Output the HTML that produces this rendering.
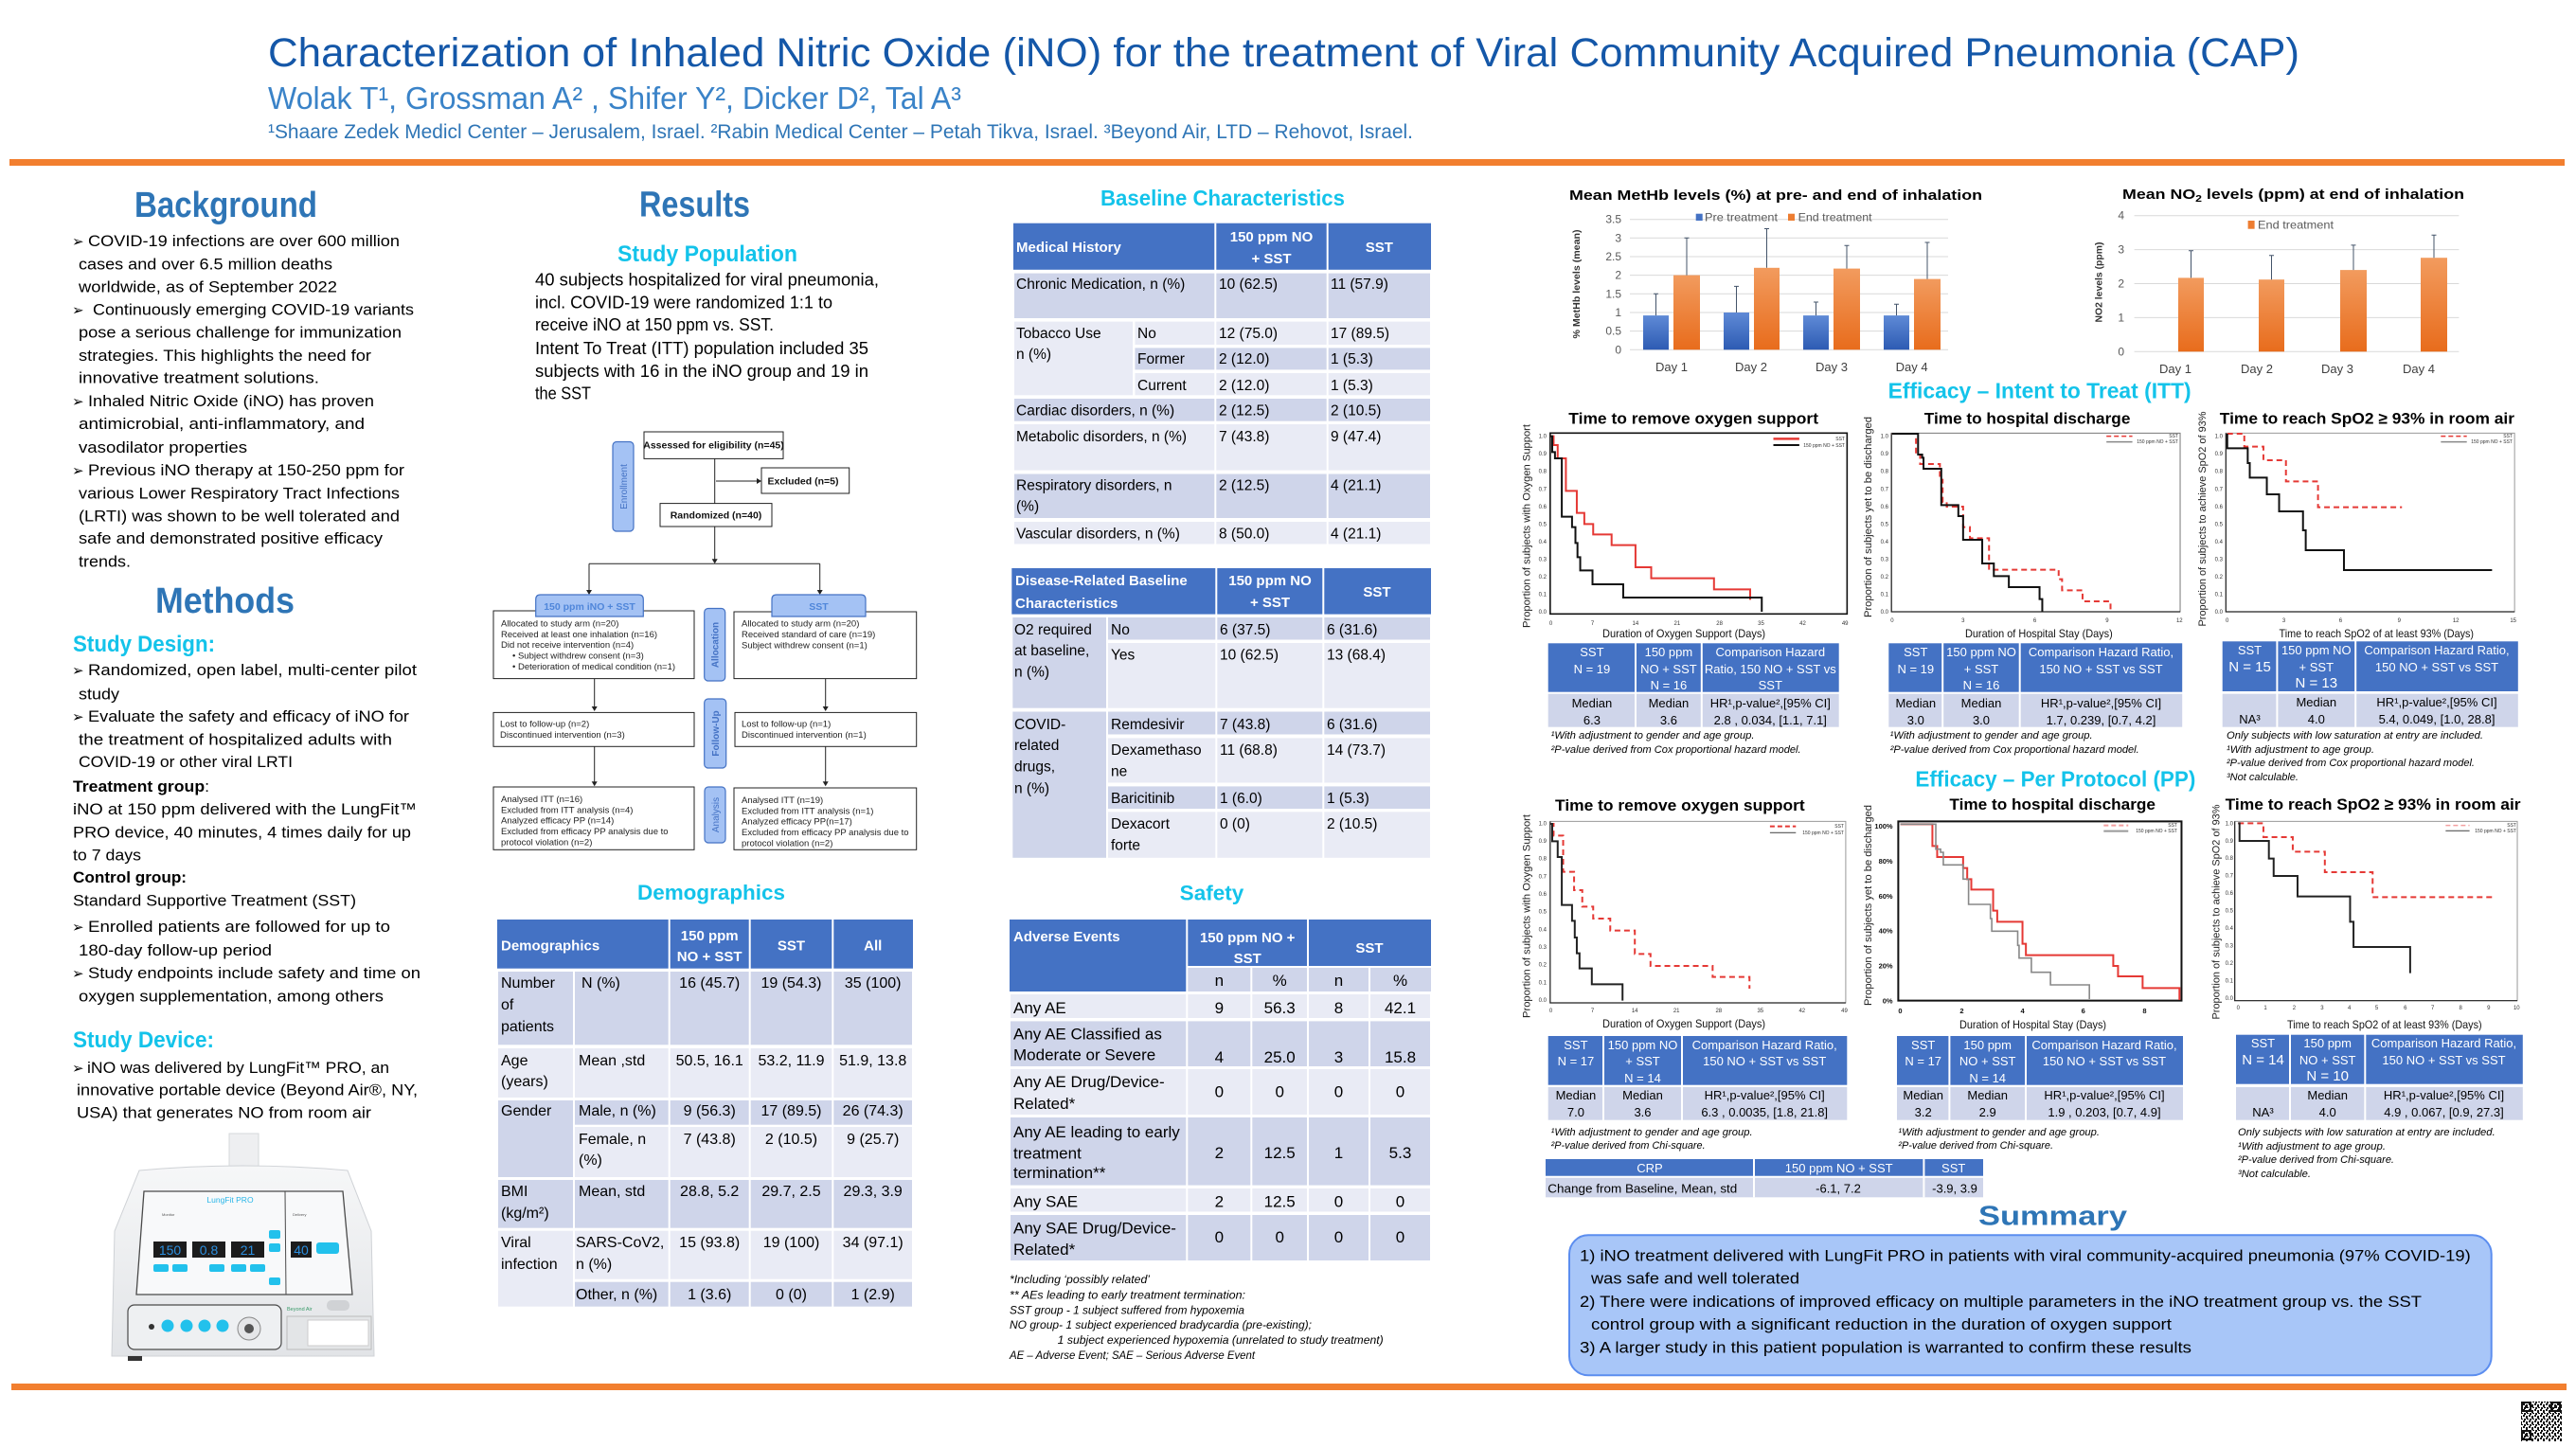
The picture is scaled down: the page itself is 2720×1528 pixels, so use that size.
<!DOCTYPE html>
<html><head><meta charset="utf-8">
<style>
html,body{margin:0;padding:0;background:#fff;width:2720px;height:1528px;overflow:hidden}
svg{display:block}
text{font-family:"Liberation Sans",sans-serif}
.bul{font-family:"DejaVu Sans",sans-serif;font-size:15px}
.b{font-size:17px}
.r{font-size:18.5px}
.h1{font-size:38px;font-weight:bold;fill:#2E75B6}
.cy{font-weight:bold;fill:#13C3EA}
.fc{font-size:9.5px;fill:#222}
.fcb{font-size:10.5px;font-weight:bold;fill:#111}
.side{font-size:10px;fill:#4472C4}
.th{fill:#fff;font-weight:bold;font-size:15px}
.tb{font-size:16px}
.ts{font-size:17px}
.tbs{font-size:15.5px}
.kw{font-size:13px;fill:#fff}
.kb{font-size:13px}
.fn{font-size:11px;font-style:italic}
.sf{font-size:12px;font-style:italic}
.tk{font-size:6px;fill:#333}
.tkb{font-size:7.5px;fill:#111;font-weight:bold}
.ax{font-size:12px;fill:#595959}
.kt{font-size:17px;font-weight:bold}
.yt{font-size:11px;fill:#222}
.xt{font-size:12px;fill:#111}
.lg{font-size:5px;fill:#333}
.sm{font-size:17px}
</style></head><body>
<svg width="2720" height="1528" viewBox="0 0 2720 1528" xmlns="http://www.w3.org/2000/svg">
<defs>
<linearGradient id="gb" x1="0" y1="0" x2="0" y2="1"><stop offset="0" stop-color="#5F8AD6"/><stop offset="1" stop-color="#2D5BB3"/></linearGradient>
<linearGradient id="go" x1="0" y1="0" x2="0" y2="1"><stop offset="0" stop-color="#F29B5E"/><stop offset="1" stop-color="#E86C1C"/></linearGradient>
<linearGradient id="gd" x1="0" y1="0" x2="0" y2="1"><stop offset="0" stop-color="#f6f7f8"/><stop offset="1" stop-color="#e2e4e7"/></linearGradient>
<pattern id="qr" width="6" height="6" patternUnits="userSpaceOnUse"><rect width="6" height="6" fill="#fff"/><rect x="0" y="0" width="2" height="2" fill="#111"/><rect x="3" y="1" width="2" height="3" fill="#111"/><rect x="1" y="4" width="2" height="2" fill="#111"/><rect x="4" y="4" width="2" height="1" fill="#111"/></pattern>
</defs>
<rect width="2720" height="1528" fill="#fff"/>

<!-- HEADER -->
<text x="283" y="70" font-size="43" fill="#1457A8" textLength="2145" lengthAdjust="spacingAndGlyphs">Characterization of Inhaled Nitric Oxide (iNO) for the treatment of Viral Community Acquired Pneumonia (CAP)</text>
<text x="283" y="115" font-size="33" fill="#3A83C8" textLength="732" lengthAdjust="spacingAndGlyphs">Wolak T¹, Grossman A² , Shifer Y², Dicker D², Tal A³</text>
<text x="283" y="146" font-size="21" fill="#2E75B6" textLength="1209" lengthAdjust="spacingAndGlyphs">¹Shaare Zedek Medicl Center – Jerusalem, Israel. ²Rabin Medical Center – Petah Tikva, Israel. ³Beyond Air, LTD – Rehovot, Israel.</text>
<rect x="10" y="168" width="2698" height="7" fill="#F27F2F"/>
<rect x="12" y="1461" width="2698" height="7" fill="#F27F2F"/>

<!-- LEFT COLUMN -->
<text x="142" y="229" class="h1" textLength="193" lengthAdjust="spacingAndGlyphs">Background</text>
<text x="76" y="260" class="bul">➢</text><text x="93" y="260" class="b" textLength="329" lengthAdjust="spacingAndGlyphs">COVID-19 infections are over 600 million</text>
<text x="83" y="284.5" class="b" textLength="268" lengthAdjust="spacingAndGlyphs">cases and over 6.5 million deaths</text>
<text x="83" y="308.5" class="b" textLength="273" lengthAdjust="spacingAndGlyphs">worldwide, as of September 2022</text>
<text x="76" y="332.5" class="bul">➢</text><text x="98" y="332.5" class="b" textLength="339" lengthAdjust="spacingAndGlyphs">Continuously emerging COVID-19 variants</text>
<text x="83" y="356.6" class="b" textLength="341" lengthAdjust="spacingAndGlyphs">pose a serious challenge for immunization</text>
<text x="83" y="380.8" class="b" textLength="309" lengthAdjust="spacingAndGlyphs">strategies. This highlights the need for</text>
<text x="83" y="404.6" class="b" textLength="254" lengthAdjust="spacingAndGlyphs">innovative treatment solutions.</text>
<text x="76" y="428.8" class="bul">➢</text><text x="93" y="428.8" class="b" textLength="302" lengthAdjust="spacingAndGlyphs">Inhaled Nitric Oxide (iNO) has proven</text>
<text x="83" y="453" class="b" textLength="302" lengthAdjust="spacingAndGlyphs">antimicrobial, anti-inflammatory, and</text>
<text x="83" y="478" class="b" textLength="178" lengthAdjust="spacingAndGlyphs">vasodilator properties</text>
<text x="76" y="502" class="bul">➢</text><text x="93" y="502" class="b" textLength="334" lengthAdjust="spacingAndGlyphs">Previous iNO therapy at 150-250 ppm for</text>
<text x="83" y="526.3" class="b" textLength="339" lengthAdjust="spacingAndGlyphs">various Lower Respiratory Tract Infections</text>
<text x="83" y="550.5" class="b" textLength="339" lengthAdjust="spacingAndGlyphs">(LRTI) was shown to be well tolerated and</text>
<text x="83" y="574" class="b" textLength="321" lengthAdjust="spacingAndGlyphs">safe and demonstrated positive efficacy</text>
<text x="83" y="598.5" class="b" textLength="55" lengthAdjust="spacingAndGlyphs">trends.</text>

<text x="164" y="647" class="h1" textLength="147" lengthAdjust="spacingAndGlyphs">Methods</text>
<text x="77" y="688" class="cy" font-size="24" textLength="150" lengthAdjust="spacingAndGlyphs">Study Design:</text>
<text x="76" y="713" class="bul">➢</text><text x="93" y="713" class="b" textLength="347" lengthAdjust="spacingAndGlyphs">Randomized, open label, multi-center pilot</text>
<text x="83" y="738.5" class="b" textLength="43" lengthAdjust="spacingAndGlyphs">study</text>
<text x="76" y="762" class="bul">➢</text><text x="93" y="762" class="b" textLength="339" lengthAdjust="spacingAndGlyphs">Evaluate the safety and efficacy of iNO for</text>
<text x="83" y="786.5" class="b" textLength="331" lengthAdjust="spacingAndGlyphs">the treatment of hospitalized adults with</text>
<text x="83" y="810" class="b" textLength="226" lengthAdjust="spacingAndGlyphs">COVID-19 or other viral LRTI</text>
<text x="77" y="836" class="b" textLength="144" lengthAdjust="spacingAndGlyphs"><tspan font-weight="bold">Treatment group</tspan>:</text>
<text x="77" y="860" class="b" textLength="363" lengthAdjust="spacingAndGlyphs">iNO at 150 ppm delivered with the LungFit™</text>
<text x="77" y="884.5" class="b" textLength="357" lengthAdjust="spacingAndGlyphs">PRO device, 40 minutes, 4 times daily for up</text>
<text x="77" y="908.6" class="b" textLength="72" lengthAdjust="spacingAndGlyphs">to 7 days</text>
<text x="77" y="932" class="b" font-weight="bold" textLength="120" lengthAdjust="spacingAndGlyphs">Control group:</text>
<text x="77" y="956.5" class="b" textLength="299" lengthAdjust="spacingAndGlyphs">Standard Supportive Treatment (SST)</text>
<text x="76" y="984" class="bul">➢</text><text x="93" y="984" class="b" textLength="319" lengthAdjust="spacingAndGlyphs">Enrolled patients are followed for up to</text>
<text x="83" y="1009" class="b" textLength="204" lengthAdjust="spacingAndGlyphs">180-day follow-up period</text>
<text x="76" y="1033" class="bul">➢</text><text x="93" y="1033" class="b" textLength="351" lengthAdjust="spacingAndGlyphs">Study endpoints include safety and time on</text>
<text x="83" y="1057.7" class="b" textLength="322" lengthAdjust="spacingAndGlyphs">oxygen supplementation, among others</text>
<text x="77" y="1106" class="cy" font-size="24" textLength="149" lengthAdjust="spacingAndGlyphs">Study Device:</text>
<text x="76" y="1133" class="bul">➢</text><text x="92" y="1133" class="b" textLength="319" lengthAdjust="spacingAndGlyphs">iNO was delivered by LungFit™ PRO, an</text>
<text x="81" y="1156.5" class="b" textLength="360" lengthAdjust="spacingAndGlyphs">innovative portable device (Beyond Air®, NY,</text>
<text x="81" y="1180.7" class="b" textLength="311" lengthAdjust="spacingAndGlyphs">USA) that generates NO from room air</text>

<!-- DEVICE -->
<g>
<rect x="242" y="1197" width="31" height="40" fill="#eeeff1" stroke="#d6d8db"/>
<path d="M147,1236 Q257,1226 367,1236 L392,1300 L395,1432 L118,1432 L121,1300 Z" fill="url(#gd)" stroke="#cfd2d6"/>
<path d="M152,1258 L362,1258 L372,1367 L144,1367 Z" fill="#f8f9fa" stroke="#4a4a4a" stroke-width="1.3"/>
<line x1="301" y1="1258" x2="302" y2="1367" stroke="#4a4a4a" stroke-width="1"/>
<text x="243" y="1270" font-size="8.5" fill="#29B6E8" text-anchor="middle">LungFit PRO</text>
<text x="171" y="1284" font-size="4" fill="#555">Monitor</text>
<text x="309" y="1284" font-size="4" fill="#555">Delivery</text>
<rect x="162" y="1311" width="35" height="17" fill="#1c1c1c"/>
<rect x="203" y="1311" width="35" height="17" fill="#1c1c1c"/>
<rect x="244" y="1311" width="35" height="17" fill="#1c1c1c"/>
<rect x="307" y="1311" width="22" height="17" fill="#1c1c1c"/>
<text x="179.5" y="1325" font-size="14" fill="#2B8FE0" text-anchor="middle" font-family="Liberation Mono">150</text>
<text x="220.5" y="1325" font-size="14" fill="#2B8FE0" text-anchor="middle" font-family="Liberation Mono">0.8</text>
<text x="261.5" y="1325" font-size="14" fill="#2B8FE0" text-anchor="middle" font-family="Liberation Mono">21</text>
<text x="318" y="1325" font-size="14" fill="#2B8FE0" text-anchor="middle" font-family="Liberation Mono">40</text>
<rect x="334" y="1312" width="24" height="12" rx="3" fill="#22C1EC"/>
<rect x="284" y="1299" width="12" height="9" rx="2" fill="#22C1EC"/>
<rect x="284" y="1313" width="12" height="9" rx="2" fill="#22C1EC"/>
<rect x="284" y="1349" width="12" height="8" rx="2" fill="#22C1EC"/>
<rect x="162" y="1335" width="16" height="8" rx="2" fill="#22C1EC"/><rect x="182" y="1335" width="16" height="8" rx="2" fill="#22C1EC"/>
<rect x="221" y="1335" width="16" height="8" rx="2" fill="#22C1EC"/><rect x="244" y="1335" width="16" height="8" rx="2" fill="#22C1EC"/><rect x="264" y="1335" width="16" height="8" rx="2" fill="#22C1EC"/>
<rect x="135" y="1378" width="162" height="47" rx="7" fill="#eef0f2" stroke="#4a4a4a" stroke-width="1.2"/>
<circle cx="177" cy="1400" r="6.5" fill="#22C1EC"/><circle cx="197" cy="1400" r="6.5" fill="#22C1EC"/><circle cx="216" cy="1400" r="6.5" fill="#22C1EC"/><circle cx="235" cy="1400" r="6.5" fill="#22C1EC"/>
<circle cx="160" cy="1401" r="3" fill="#333"/>
<circle cx="263" cy="1403" r="12" fill="#e5e6e8" stroke="#888"/><circle cx="263" cy="1403" r="5" fill="#555"/>
<rect x="303" y="1390" width="89" height="35" fill="#e3e5e7" stroke="#bbb"/>
<rect x="325" y="1394" width="64" height="27" fill="#fff" stroke="#ccc"/>
<text x="303" y="1384" font-size="5.5" fill="#3a9a6a">Beyond Air</text>
<rect x="345" y="1373" width="24" height="11" rx="5" fill="#d0d2d5"/>
<rect x="135" y="1432" width="15" height="5" fill="#333"/>
</g>

<!-- RESULTS COLUMN -->
<text x="675" y="228.6" class="h1" textLength="117" lengthAdjust="spacingAndGlyphs">Results</text>
<text x="652" y="276" class="cy" font-size="24" textLength="190" lengthAdjust="spacingAndGlyphs">Study Population</text>
<text x="565" y="301.3" class="r" textLength="363" lengthAdjust="spacingAndGlyphs">40 subjects hospitalized for viral pneumonia,</text>
<text x="565" y="325.4" class="r" textLength="314" lengthAdjust="spacingAndGlyphs">incl. COVID-19 were randomized 1:1 to</text>
<text x="565" y="349" class="r" textLength="252" lengthAdjust="spacingAndGlyphs">receive iNO at 150 ppm vs. SST.</text>
<text x="565" y="374" class="r" textLength="352" lengthAdjust="spacingAndGlyphs">Intent To Treat (ITT) population included 35</text>
<text x="565" y="398" class="r" textLength="352" lengthAdjust="spacingAndGlyphs">subjects with 16 in the iNO group and 19 in</text>
<text x="565" y="421.6" class="r" textLength="59" lengthAdjust="spacingAndGlyphs">the SST</text>

<!-- FLOWCHART -->
<g fill="none" stroke="#222" stroke-width="1">
<rect x="680" y="456" width="147" height="28.4"/>
<rect x="804" y="494" width="92.7" height="27"/>
<rect x="697" y="531.6" width="118" height="24.4"/>
<line x1="754.7" y1="484.4" x2="754.7" y2="531.6"/>
<line x1="756" y1="508" x2="800" y2="508"/>
<line x1="754.7" y1="556" x2="754.7" y2="592"/>
<line x1="622" y1="595.3" x2="865.7" y2="595.3"/>
<line x1="622" y1="595.3" x2="622" y2="624"/>
<line x1="865.7" y1="595.3" x2="865.7" y2="624"/>
<rect x="521" y="645" width="212" height="71.6"/>
<rect x="775" y="646" width="192.7" height="70.6"/>
<line x1="627.7" y1="716.6" x2="627.7" y2="747"/>
<line x1="871.7" y1="716.6" x2="871.7" y2="747"/>
<rect x="521" y="752.4" width="212" height="35.9"/>
<rect x="776" y="752.4" width="191.7" height="35.9"/>
<line x1="627.7" y1="788.3" x2="627.7" y2="826"/>
<line x1="871.7" y1="788.3" x2="871.7" y2="826"/>
<rect x="521" y="831" width="212" height="66.3"/>
<rect x="775" y="832" width="192.7" height="65.3"/>
</g>
<g fill="#222">
<path d="M804,508 l-5,-3 v6 z"/>
<path d="M754.7,595.3 l-3,-5 h6 z"/>
<path d="M622,628 l-3,-5 h6 z"/><path d="M865.7,628 l-3,-5 h6 z"/>
<path d="M627.7,751 l-3,-5 h6 z"/><path d="M871.7,751 l-3,-5 h6 z"/>
<path d="M627.7,830.3 l-3,-5 h6 z"/><path d="M871.7,830.3 l-3,-5 h6 z"/>
</g>
<g fill="#A4C2F4" stroke="#4472C4" stroke-width="1.2">
<rect x="647" y="466.5" width="22" height="94.5" rx="4"/>
<rect x="743.7" y="642.5" width="22" height="76.5" rx="4"/>
<rect x="743.7" y="738" width="23" height="73" rx="4"/>
<rect x="744" y="831" width="22" height="59" rx="4"/>
<path d="M565.7,651 V633 Q565.7,628 570.7,628 H674.3 Q679.3,628 679.3,633 V651 Z"/>
<path d="M815,651 V633 Q815,628 820,628 H909 Q914,628 914,633 V651 Z"/>
</g>
<text class="side" transform="translate(662,514) rotate(-90)" text-anchor="middle">Enrollment</text>
<text class="side" transform="translate(758.5,681) rotate(-90)" text-anchor="middle" font-weight="bold">Allocation</text>
<text class="side" transform="translate(759,774.5) rotate(-90)" text-anchor="middle" font-weight="bold">Follow-Up</text>
<text class="side" transform="translate(759,860.5) rotate(-90)" text-anchor="middle">Analysis</text>
<text x="622.5" y="644" font-size="10.5" fill="#4F86DA" font-weight="bold" text-anchor="middle">150 ppm iNO + SST</text>
<text x="864.5" y="644" font-size="10.5" fill="#4F86DA" font-weight="bold" text-anchor="middle">SST</text>
<text x="753.5" y="473.5" class="fcb" text-anchor="middle">Assessed  for eligibility (n=45)</text>
<text x="810.5" y="511.5" class="fcb">Excluded (n=5)</text>
<text x="756" y="547.5" class="fcb" text-anchor="middle">Randomized (n=40)</text>
<text x="529" y="661.5" class="fc">Allocated to study arm (n=20)</text>
<text x="529" y="673" class="fc">Received  at least one inhalation (n=16)</text>
<text x="529" y="684" class="fc">Did not receive intervention  (n=4)</text>
<text x="541" y="695.5" class="fc">• Subject withdrew  consent (n=3)</text>
<text x="541" y="707" class="fc">• Deterioration  of medical condition (n=1)</text>
<text x="783" y="661.5" class="fc">Allocated to study arm (n=20)</text>
<text x="783" y="673" class="fc">Received  standard of care (n=19)</text>
<text x="783" y="684.5" class="fc">Subject withdrew  consent (n=1)</text>
<text x="528" y="767.5" class="fc">Lost to follow-up  (n=2)</text>
<text x="528" y="779" class="fc">Discontinued intervention  (n=3)</text>
<text x="783" y="767.5" class="fc">Lost to follow-up  (n=1)</text>
<text x="783" y="779" class="fc">Discontinued intervention  (n=1)</text>
<text x="529" y="847" class="fc">Analysed ITT  (n=16)</text>
<text x="529" y="858.5" class="fc">Excluded from ITT  analysis (n=4)</text>
<text x="529" y="869.5" class="fc">Analyzed efficacy  PP (n=14)</text>
<text x="529" y="881" class="fc">Excluded from efficacy  PP analysis due to</text>
<text x="529" y="892.5" class="fc">protocol violation  (n=2)</text>
<text x="783" y="848" class="fc">Analysed ITT  (n=19)</text>
<text x="783" y="859.5" class="fc">Excluded from ITT  analysis (n=1)</text>
<text x="783" y="870.5" class="fc">Analyzed efficacy  PP(n=17)</text>
<text x="783" y="882" class="fc">Excluded from efficacy  PP analysis due to</text>
<text x="783" y="893.5" class="fc">protocol violation  (n=2)</text>

<!-- DEMOGRAPHICS -->
<text x="673" y="950" class="cy" font-size="22" textLength="156" lengthAdjust="spacingAndGlyphs">Demographics</text>
<rect x="525" y="971" width="439" height="51.7" fill="#4472C4"/>
<g stroke="#fff" stroke-width="2">
<rect x="525" y="1025" width="439" height="79.3" fill="#CFD5EA"/>
<rect x="525" y="1106" width="439" height="54" fill="#E9EBF5"/>
<rect x="525" y="1161" width="81" height="83" fill="#CFD5EA"/>
<rect x="606" y="1161" width="358" height="27.7" fill="#CFD5EA"/>
<rect x="606" y="1189" width="358" height="55" fill="#E9EBF5"/>
<rect x="525" y="1245" width="439" height="52.7" fill="#CFD5EA"/>
<rect x="525" y="1298.7" width="81" height="82" fill="#E9EBF5"/>
<rect x="606" y="1298.7" width="358" height="53" fill="#E9EBF5"/>
<rect x="606" y="1352.7" width="358" height="28" fill="#CFD5EA"/>
<line x1="606" y1="1025" x2="606" y2="1381"/>
<line x1="706.7" y1="971" x2="706.7" y2="1381"/>
<line x1="791.7" y1="971" x2="791.7" y2="1381"/>
<line x1="879.3" y1="971" x2="879.3" y2="1381"/>
</g>
<text x="529" y="1003.5" class="th" font-size="16">Demographics</text>
<text x="749.2" y="993" class="th" font-size="16" text-anchor="middle">150 ppm</text>
<text x="749.2" y="1015" class="th" font-size="16" text-anchor="middle">NO + SST</text>
<text x="835.5" y="1003.5" class="th" font-size="16" text-anchor="middle">SST</text>
<text x="921.7" y="1003.5" class="th" font-size="16" text-anchor="middle">All</text>
<g class="tb">
<text x="529" y="1043">Number</text><text x="529" y="1066">of</text><text x="529" y="1089">patients</text>
<text x="614" y="1043">N (%)</text>
<text x="749.2" y="1043" text-anchor="middle">16 (45.7)</text><text x="835.5" y="1043" text-anchor="middle">19 (54.3)</text><text x="921.7" y="1043" text-anchor="middle">35 (100)</text>
<text x="529" y="1125">Age</text><text x="529" y="1147">(years)</text>
<text x="611" y="1125">Mean ,std</text>
<text x="749.2" y="1125" text-anchor="middle">50.5, 16.1</text><text x="835.5" y="1125" text-anchor="middle">53.2, 11.9</text><text x="921.7" y="1125" text-anchor="middle">51.9, 13.8</text>
<text x="529" y="1178">Gender</text>
<text x="611" y="1178">Male, n (%)</text>
<text x="749.2" y="1178" text-anchor="middle">9 (56.3)</text><text x="835.5" y="1178" text-anchor="middle">17 (89.5)</text><text x="921.7" y="1178" text-anchor="middle">26 (74.3)</text>
<text x="611" y="1208">Female, n</text><text x="611" y="1230">(%)</text>
<text x="749.2" y="1208" text-anchor="middle">7 (43.8)</text><text x="835.5" y="1208" text-anchor="middle">2 (10.5)</text><text x="921.7" y="1208" text-anchor="middle">9 (25.7)</text>
<text x="529" y="1263">BMI</text><text x="529" y="1286">(kg/m²)</text>
<text x="611" y="1263">Mean, std</text>
<text x="749.2" y="1263" text-anchor="middle">28.8, 5.2</text><text x="835.5" y="1263" text-anchor="middle">29.7, 2.5</text><text x="921.7" y="1263" text-anchor="middle">29.3, 3.9</text>
<text x="529" y="1317">Viral</text><text x="529" y="1340">infection</text>
<text x="608" y="1317">SARS-CoV2,</text><text x="608" y="1340">n (%)</text>
<text x="749.2" y="1317" text-anchor="middle">15 (93.8)</text><text x="835.5" y="1317" text-anchor="middle">19 (100)</text><text x="921.7" y="1317" text-anchor="middle">34 (97.1)</text>
<text x="608" y="1372">Other, n (%)</text>
<text x="749.2" y="1372" text-anchor="middle">1 (3.6)</text><text x="835.5" y="1372" text-anchor="middle">0 (0)</text><text x="921.7" y="1372" text-anchor="middle">1 (2.9)</text>
</g>

<!-- BASELINE CHARACTERISTICS -->
<text x="1162" y="216.8" class="cy" font-size="23" textLength="258" lengthAdjust="spacingAndGlyphs">Baseline Characteristics</text>
<rect x="1070" y="235.7" width="441" height="49.1" fill="#4472C4"/>
<g stroke="#fff" stroke-width="2">
<rect x="1070" y="287.6" width="441" height="49.4" fill="#CFD5EA"/>
<rect x="1070" y="338.6" width="127.3" height="79.7" fill="#E9EBF5"/>
<rect x="1197.3" y="338.6" width="313.7" height="26.4" fill="#E9EBF5"/>
<rect x="1197.3" y="366.4" width="313.7" height="25" fill="#CFD5EA"/>
<rect x="1197.3" y="393" width="313.7" height="25.3" fill="#E9EBF5"/>
<rect x="1070" y="420" width="441" height="25.7" fill="#CFD5EA"/>
<rect x="1070" y="447" width="441" height="50.6" fill="#E9EBF5"/>
<rect x="1070" y="499.5" width="441" height="48.5" fill="#CFD5EA"/>
<rect x="1070" y="550" width="441" height="25.5" fill="#E9EBF5"/>
<line x1="1283.3" y1="235.7" x2="1283.3" y2="575.5"/>
<line x1="1401.7" y1="235.7" x2="1401.7" y2="575.5"/>
<line x1="1197.3" y1="338.6" x2="1197.3" y2="418.3"/>
</g>
<text x="1073" y="266" class="th">Medical History</text>
<text x="1342.5" y="255" class="th" text-anchor="middle">150 ppm NO</text>
<text x="1342.5" y="278" class="th" text-anchor="middle">+ SST</text>
<text x="1456.4" y="266" class="th" text-anchor="middle">SST</text>
<g class="tbs">
<text x="1073" y="305">Chronic Medication, n (%)</text><text x="1287" y="305">10 (62.5)</text><text x="1405" y="305">11 (57.9)</text>
<text x="1073" y="357">Tobacco Use</text><text x="1073" y="379">n (%)</text>
<text x="1201" y="357">No</text><text x="1287" y="357">12 (75.0)</text><text x="1405" y="357">17 (89.5)</text>
<text x="1201" y="384">Former</text><text x="1287" y="384">2 (12.0)</text><text x="1405" y="384">1 (5.3)</text>
<text x="1201" y="412">Current</text><text x="1287" y="412">2 (12.0)</text><text x="1405" y="412">1 (5.3)</text>
<text x="1073" y="438.6">Cardiac disorders, n (%)</text><text x="1287" y="438.6">2 (12.5)</text><text x="1405" y="438.6">2 (10.5)</text>
<text x="1073" y="466">Metabolic disorders, n (%)</text><text x="1287" y="466">7 (43.8)</text><text x="1405" y="466">9 (47.4)</text>
<text x="1073" y="517.4">Respiratory disorders, n</text><text x="1073" y="539.6">(%)</text><text x="1287" y="517.4">2 (12.5)</text><text x="1405" y="517.4">4 (21.1)</text>
<text x="1073" y="568.4">Vascular disorders, n (%)</text><text x="1287" y="568.4">8 (50.0)</text><text x="1405" y="568.4">4 (21.1)</text>
</g>

<rect x="1068.3" y="600" width="442.7" height="48.6" fill="#4472C4"/>
<g stroke="#fff" stroke-width="2">
<rect x="1068.3" y="651" width="100.7" height="97.7" fill="#CFD5EA"/>
<rect x="1169" y="651" width="342" height="25.5" fill="#CFD5EA"/>
<rect x="1169" y="678" width="342" height="70.7" fill="#E9EBF5"/>
<rect x="1068.3" y="750.5" width="100.7" height="156.3" fill="#CFD5EA"/>
<rect x="1169" y="750.5" width="342" height="26" fill="#CFD5EA"/>
<rect x="1169" y="778.4" width="342" height="49.1" fill="#E9EBF5"/>
<rect x="1169" y="829.4" width="342" height="25.6" fill="#CFD5EA"/>
<rect x="1169" y="856.3" width="342" height="50.5" fill="#E9EBF5"/>
<line x1="1284.3" y1="600" x2="1284.3" y2="906.8"/>
<line x1="1397.3" y1="600" x2="1397.3" y2="906.8"/>
<line x1="1169" y1="651" x2="1169" y2="906.8"/>
</g>
<text x="1072" y="618" class="th">Disease-Related Baseline</text>
<text x="1072" y="642" class="th">Characteristics</text>
<text x="1341" y="618" class="th" text-anchor="middle">150 ppm NO</text>
<text x="1341" y="641" class="th" text-anchor="middle">+ SST</text>
<text x="1454" y="630" class="th" text-anchor="middle">SST</text>
<g class="tbs">
<text x="1071" y="670">O2 required</text><text x="1071" y="692">at baseline,</text><text x="1071" y="714.7">n (%)</text>
<text x="1173" y="670">No</text><text x="1288" y="670">6 (37.5)</text><text x="1401" y="670">6 (31.6)</text>
<text x="1173" y="696.7">Yes</text><text x="1288" y="696.7">10 (62.5)</text><text x="1401" y="696.7">13 (68.4)</text>
<text x="1071" y="770">COVID-</text><text x="1071" y="792">related</text><text x="1071" y="814.7">drugs,</text><text x="1071" y="837.4">n (%)</text>
<text x="1173" y="770">Remdesivir</text><text x="1288" y="770">7 (43.8)</text><text x="1401" y="770">6 (31.6)</text>
<text x="1173" y="796.8">Dexamethaso</text><text x="1173" y="819.5">ne</text><text x="1288" y="796.8">11 (68.8)</text><text x="1401" y="796.8">14 (73.7)</text>
<text x="1173" y="847.8">Baricitinib</text><text x="1288" y="847.8">1 (6.0)</text><text x="1401" y="847.8">1 (5.3)</text>
<text x="1173" y="875">Dexacort</text><text x="1173" y="897.3">forte</text><text x="1288" y="875">0 (0)</text><text x="1401" y="875">2 (10.5)</text>
</g>

<!-- SAFETY -->
<text x="1245.7" y="950.6" class="cy" font-size="22" textLength="67.6" lengthAdjust="spacingAndGlyphs">Safety</text>
<rect x="1066" y="971" width="445" height="49" fill="#4472C4"/>
<rect x="1066" y="971" width="187.3" height="76" fill="#4472C4"/>
<rect x="1253.3" y="1022" width="257.7" height="25" fill="#CFD5EA"/>
<g stroke="#fff" stroke-width="2">
<rect x="1066" y="1049" width="445" height="27" fill="#E9EBF5"/>
<rect x="1066" y="1077.4" width="445" height="49.6" fill="#CFD5EA"/>
<rect x="1066" y="1128" width="445" height="50" fill="#E9EBF5"/>
<rect x="1066" y="1179" width="445" height="73.6" fill="#CFD5EA"/>
<rect x="1066" y="1254" width="445" height="26.5" fill="#E9EBF5"/>
<rect x="1066" y="1282" width="445" height="50" fill="#CFD5EA"/>
<line x1="1253.3" y1="971" x2="1253.3" y2="1332"/>
<line x1="1381" y1="971" x2="1381" y2="1332"/>
<line x1="1321.3" y1="1021" x2="1321.3" y2="1332"/>
<line x1="1446" y1="1021" x2="1446" y2="1332"/>
<line x1="1253.3" y1="1021" x2="1511" y2="1021"/>
</g>
<text x="1070" y="994" class="th" font-size="16.5">Adverse Events</text>
<text x="1317.2" y="995" class="th" font-size="16.5" text-anchor="middle">150 ppm NO +</text>
<text x="1317.2" y="1017" class="th" font-size="16.5" text-anchor="middle">SST</text>
<text x="1446" y="1006" class="th" font-size="16.5" text-anchor="middle">SST</text>
<g class="ts">
<text x="1287.3" y="1041" text-anchor="middle">n</text><text x="1351.2" y="1041" text-anchor="middle">%</text><text x="1413.5" y="1041" text-anchor="middle">n</text><text x="1478.5" y="1041" text-anchor="middle">%</text>
<text x="1070" y="1070">Any AE</text>
<text x="1287.3" y="1070" text-anchor="middle">9</text><text x="1351.2" y="1070" text-anchor="middle">56.3</text><text x="1413.5" y="1070" text-anchor="middle">8</text><text x="1478.5" y="1070" text-anchor="middle">42.1</text>
<text x="1070" y="1097.7">Any AE Classified as</text><text x="1070" y="1119.4">Moderate or Severe</text>
<text x="1287.3" y="1121.8" text-anchor="middle">4</text><text x="1351.2" y="1121.8" text-anchor="middle">25.0</text><text x="1413.5" y="1121.8" text-anchor="middle">3</text><text x="1478.5" y="1121.8" text-anchor="middle">15.8</text>
<text x="1070" y="1148">Any AE Drug/Device-</text><text x="1070" y="1171">Related*</text>
<text x="1287.3" y="1158.6" text-anchor="middle">0</text><text x="1351.2" y="1158.6" text-anchor="middle">0</text><text x="1413.5" y="1158.6" text-anchor="middle">0</text><text x="1478.5" y="1158.6" text-anchor="middle">0</text>
<text x="1070" y="1201">Any AE leading to early</text><text x="1070" y="1223.4">treatment</text><text x="1070" y="1244">termination**</text>
<text x="1287.3" y="1223" text-anchor="middle">2</text><text x="1351.2" y="1223" text-anchor="middle">12.5</text><text x="1413.5" y="1223" text-anchor="middle">1</text><text x="1478.5" y="1223" text-anchor="middle">5.3</text>
<text x="1070" y="1274.3">Any SAE</text>
<text x="1287.3" y="1274.3" text-anchor="middle">2</text><text x="1351.2" y="1274.3" text-anchor="middle">12.5</text><text x="1413.5" y="1274.3" text-anchor="middle">0</text><text x="1478.5" y="1274.3" text-anchor="middle">0</text>
<text x="1070" y="1302.6">Any SAE Drug/Device-</text><text x="1070" y="1325">Related*</text>
<text x="1287.3" y="1312" text-anchor="middle">0</text><text x="1351.2" y="1312" text-anchor="middle">0</text><text x="1413.5" y="1312" text-anchor="middle">0</text><text x="1478.5" y="1312" text-anchor="middle">0</text>
</g>
<text x="1066" y="1355" class="sf" textLength="148" lengthAdjust="spacingAndGlyphs">*Including ‘possibly related’</text>
<text x="1066" y="1371.4" class="sf" textLength="249" lengthAdjust="spacingAndGlyphs">** AEs leading to early treatment termination:</text>
<text x="1066" y="1387.6" class="sf" textLength="248" lengthAdjust="spacingAndGlyphs">SST group - 1 subject suffered from hypoxemia</text>
<text x="1066" y="1403" class="sf" textLength="319" lengthAdjust="spacingAndGlyphs">NO group- 1 subject experienced bradycardia (pre-existing);</text>
<text x="1116.7" y="1419" class="sf" textLength="344" lengthAdjust="spacingAndGlyphs">1 subject experienced hypoxemia (unrelated to study treatment)</text>
<text x="1066" y="1435" class="sf" textLength="259" lengthAdjust="spacingAndGlyphs">AE – Adverse Event; SAE – Serious Adverse Event</text>

<!-- BAR CHART 1 -->
<text x="1657" y="211" font-size="14.5" font-weight="bold" textLength="436" lengthAdjust="spacingAndGlyphs">Mean MetHb levels (%) at pre- and end of inhalation</text>
<g stroke="#D9D9D9" stroke-width="1">
<line x1="1721" y1="369.3" x2="2057" y2="369.3"/><line x1="1721" y1="349.6" x2="2057" y2="349.6"/>
<line x1="1721" y1="330" x2="2057" y2="330"/><line x1="1721" y1="310.3" x2="2057" y2="310.3"/>
<line x1="1721" y1="290.6" x2="2057" y2="290.6"/><line x1="1721" y1="271" x2="2057" y2="271"/>
<line x1="1721" y1="251.3" x2="2057" y2="251.3"/><line x1="1721" y1="231.7" x2="2057" y2="231.7"/>
</g>
<g class="ax" text-anchor="end">
<text x="1712" y="373.3">0</text><text x="1712" y="353.6">0.5</text><text x="1712" y="334">1</text><text x="1712" y="314.3">1.5</text>
<text x="1712" y="294.6">2</text><text x="1712" y="275">2.5</text><text x="1712" y="255.3">3</text><text x="1712" y="235.7">3.5</text>
</g>
<text transform="translate(1668,300) rotate(-90)" font-size="10" font-weight="bold" fill="#333" text-anchor="middle" textLength="115" lengthAdjust="spacingAndGlyphs">% MetHb levels (mean)</text>
<rect x="1790.7" y="225.7" width="7" height="7.3" fill="#4472C4"/><text x="1800" y="233.5" class="ax" textLength="77" lengthAdjust="spacingAndGlyphs">Pre treatment</text>
<rect x="1888" y="225.7" width="7" height="7.3" fill="#ED7D31"/><text x="1898.6" y="233.5" class="ax" textLength="78" lengthAdjust="spacingAndGlyphs">End treatment</text>
<rect x="1735" y="333.1" width="27" height="36.2" fill="url(#gb)"/>
<rect x="1767" y="290.6" width="28" height="78.7" fill="url(#go)"/>
<rect x="1820" y="330" width="27" height="39.3" fill="url(#gb)"/>
<rect x="1852" y="282.8" width="27" height="86.5" fill="url(#go)"/>
<rect x="1904" y="333.1" width="27" height="36.2" fill="url(#gb)"/>
<rect x="1936" y="283.6" width="28" height="85.7" fill="url(#go)"/>
<rect x="1989" y="333.1" width="27" height="36.2" fill="url(#gb)"/>
<rect x="2021" y="294.6" width="28" height="74.7" fill="url(#go)"/>
<g stroke="#44546A" stroke-width="1">
<path d="M1748.5,333.1V310.3M1746,310.3h5"/><path d="M1781,290.6V251.3M1778.5,251.3h5"/>
<path d="M1833.5,330V302.4M1831,302.4h5"/><path d="M1865.5,282.8V241.5M1863,241.5h5"/>
<path d="M1917.5,333.1V319M1915,319h5"/><path d="M1950,283.6V259.2M1947.5,259.2h5"/>
<path d="M2002.5,333.1V321.3M2000,321.3h5"/><path d="M2035,294.6V256M2032.5,256h5"/>
</g>
<g font-size="13" fill="#404040" text-anchor="middle">
<text x="1765" y="392">Day 1</text><text x="1849" y="392">Day 2</text><text x="1934" y="392">Day 3</text><text x="2018.6" y="392">Day 4</text>
</g>

<!-- BAR CHART 2 -->
<text x="2241" y="210" font-size="14.5" font-weight="bold" textLength="361" lengthAdjust="spacingAndGlyphs">Mean NO<tspan font-size="10" dy="3">2</tspan><tspan dy="-3"> levels (ppm) at end of inhalation</tspan></text>
<g stroke="#D9D9D9" stroke-width="1">
<line x1="2253.6" y1="371.3" x2="2596.4" y2="371.3"/><line x1="2253.6" y1="335.4" x2="2596.4" y2="335.4"/>
<line x1="2253.6" y1="299.5" x2="2596.4" y2="299.5"/><line x1="2253.6" y1="263.6" x2="2596.4" y2="263.6"/>
<line x1="2253.6" y1="227.7" x2="2596.4" y2="227.7"/>
</g>
<g class="ax" text-anchor="end">
<text x="2243" y="375.3">0</text><text x="2243" y="339.4">1</text><text x="2243" y="303.5">2</text><text x="2243" y="267.6">3</text><text x="2243" y="231.7">4</text>
</g>
<text transform="translate(2219.5,298) rotate(-90)" font-size="10" font-weight="bold" fill="#333" text-anchor="middle" textLength="85" lengthAdjust="spacingAndGlyphs">NO2 levels (ppm)</text>
<rect x="2373.6" y="233" width="7" height="8.7" fill="#ED7D31"/><text x="2384" y="241.5" class="ax" textLength="80" lengthAdjust="spacingAndGlyphs">End treatment</text>
<rect x="2300" y="293.4" width="27" height="77.9" fill="url(#go)"/>
<rect x="2385" y="295.2" width="27" height="76.1" fill="url(#go)"/>
<rect x="2471" y="285.1" width="28" height="86.2" fill="url(#go)"/>
<rect x="2556" y="272.2" width="28" height="99.1" fill="url(#go)"/>
<g stroke="#44546A" stroke-width="1">
<path d="M2313.5,293.4V264.7M2311,264.7h5"/><path d="M2398.5,295.2V269.7M2396,269.7h5"/>
<path d="M2485,285.1V258.9M2482.5,258.9h5"/><path d="M2570,272.2V248.2M2567.5,248.2h5"/>
</g>
<g font-size="13" fill="#404040" text-anchor="middle">
<text x="2297" y="394">Day 1</text><text x="2383" y="394">Day 2</text><text x="2468" y="394">Day 3</text><text x="2554" y="394">Day 4</text>
</g>

<!-- ITT -->
<text x="1993.6" y="420.7" class="cy" font-size="23" textLength="320" lengthAdjust="spacingAndGlyphs">Efficacy – Intent to Treat (ITT)</text>
<text x="1656.3" y="447.3" class="kt" textLength="263.7" lengthAdjust="spacingAndGlyphs">Time to remove oxygen support</text>
<text x="2031.8" y="447.3" class="kt" textLength="217.6" lengthAdjust="spacingAndGlyphs">Time to hospital discharge</text>
<text x="2343.8" y="447.3" class="kt" textLength="311.2" lengthAdjust="spacingAndGlyphs">Time to reach SpO2 ≥ 93% in room air</text>

<g transform="translate(1590,390) scale(0.72067,0.33333)" fill="none">
<rect x="65" y="202" width="435" height="573" stroke="#111" stroke-width="1.6" vector-effect="non-scaling-stroke"/>
<rect x="565" y="202" width="423" height="566" stroke="#777" stroke-width="1" vector-effect="non-scaling-stroke"/>
<rect x="1055" y="202" width="423" height="566" stroke="#999" stroke-width="1" vector-effect="non-scaling-stroke"/>
<path d="M565,202V768H988" stroke="#222" stroke-width="1.2" vector-effect="non-scaling-stroke"/>
<path d="M1055,202V768H1478" stroke="#222" stroke-width="1.2" vector-effect="non-scaling-stroke"/>
<path d="M66,212H70V240H76V282H88V385H104V455H115V490H128V523H155V557H190V627H213V662H305V697H358V730" stroke="#E53935" stroke-width="2" vector-effect="non-scaling-stroke"/>
<path d="M66,212H68V262H72V282H82V467H97V500H102V550H105V595H109V637H127V681H172V723H375V768" stroke="#111" stroke-width="2" vector-effect="non-scaling-stroke"/>
<path d="M392,220H430" stroke="#E53935" stroke-width="2.5" vector-effect="non-scaling-stroke"/>
<path d="M392,240H430" stroke="#111" stroke-width="2" vector-effect="non-scaling-stroke"/>
<path d="M566,204H601V270H607V300H636V350H640V420H646V435H670V500H680V535H708V635H810V665H815V700H845V735H886V768" stroke="#E53935" stroke-width="2" stroke-dasharray="6,4" vector-effect="non-scaling-stroke"/>
<path d="M566,204H604V270H610V280H612V315H638V430H663V465H670V540H698V615H715V655H737V690H782V728H786V768" stroke="#111" stroke-width="2" vector-effect="non-scaling-stroke"/>
<path d="M880,212H918" stroke="#E53935" stroke-width="1.5" stroke-dasharray="5,3" vector-effect="non-scaling-stroke"/>
<path d="M880,230H918" stroke="#888" stroke-width="1.5" vector-effect="non-scaling-stroke"/>
<path d="M1057,204H1082V245H1110V288H1143V355H1190V437H1313" stroke="#E53935" stroke-width="2" stroke-dasharray="6,4" vector-effect="non-scaling-stroke"/>
<path d="M1057,204V250H1087V297H1090V343H1115V396H1133V450H1168V510H1172V573H1228V636H1445" stroke="#111" stroke-width="2" vector-effect="non-scaling-stroke"/>
<path d="M1370,212H1408" stroke="#E53935" stroke-width="1.5" stroke-dasharray="5,3" vector-effect="non-scaling-stroke"/>
<path d="M1370,230H1408" stroke="#888" stroke-width="1.5" vector-effect="non-scaling-stroke"/>
</g>
<g class="lg" text-anchor="end">
<text x="1948" y="465">SST</text><text x="1948" y="472">150 ppm NO + SST</text>
<text x="2300" y="462">SST</text><text x="2300" y="468">150 ppm NO + SST</text>
<text x="2653" y="462">SST</text><text x="2653" y="468">150 ppm NO + SST</text>
</g>
<g class="tk" text-anchor="end">
<text x="1633" y="462.7">1.0</text><text x="1633" y="481.2">0.9</text><text x="1633" y="499.7">0.8</text><text x="1633" y="518.3">0.7</text><text x="1633" y="536.8">0.6</text><text x="1633" y="555.3">0.5</text><text x="1633" y="573.9">0.4</text><text x="1633" y="592.4">0.3</text><text x="1633" y="610.9">0.2</text><text x="1633" y="629.5">0.1</text><text x="1633" y="648">0.0</text>
<text x="1994" y="462.7">1.0</text><text x="1994" y="481.2">0.9</text><text x="1994" y="499.7">0.8</text><text x="1994" y="518.3">0.7</text><text x="1994" y="536.8">0.6</text><text x="1994" y="555.3">0.5</text><text x="1994" y="573.9">0.4</text><text x="1994" y="592.4">0.3</text><text x="1994" y="610.9">0.2</text><text x="1994" y="629.5">0.1</text><text x="1994" y="648">0.0</text>
<text x="2347" y="462.7">1.0</text><text x="2347" y="481.2">0.9</text><text x="2347" y="499.7">0.8</text><text x="2347" y="518.3">0.7</text><text x="2347" y="536.8">0.6</text><text x="2347" y="555.3">0.5</text><text x="2347" y="573.9">0.4</text><text x="2347" y="592.4">0.3</text><text x="2347" y="610.9">0.2</text><text x="2347" y="629.5">0.1</text><text x="2347" y="648">0.0</text>
</g>
<g class="tk" text-anchor="middle">
<text x="1637.6" y="660">0</text><text x="1681.5" y="660">7</text><text x="1726.9" y="660">14</text><text x="1770.9" y="660">21</text><text x="1815.6" y="660">28</text><text x="1859.5" y="660">35</text><text x="1903.5" y="660">42</text><text x="1948.2" y="660">49</text>
<text x="1997.9" y="657">0</text><text x="2072.8" y="657">3</text><text x="2148.5" y="657">6</text><text x="2224.9" y="657">9</text><text x="2301.3" y="657">12</text>
<text x="2351.7" y="657">0</text><text x="2411.6" y="657">3</text><text x="2471.4" y="657">6</text><text x="2533.3" y="657">9</text><text x="2593.2" y="657">12</text><text x="2653.7" y="657">15</text>
</g>
<text transform="translate(1615.5,555.5) rotate(-90)" class="yt" text-anchor="middle" textLength="215" lengthAdjust="spacingAndGlyphs">Proportion of subjects with Oxygen Support</text>
<text transform="translate(1976,546) rotate(-90)" class="yt" text-anchor="middle" textLength="212" lengthAdjust="spacingAndGlyphs">Proportion of subjects yet to be discharged</text>
<text transform="translate(2329,548) rotate(-90)" class="yt" text-anchor="middle" textLength="227" lengthAdjust="spacingAndGlyphs">Proportion of subjects to achieve SpO2 of 93%</text>
<text x="1692" y="673" class="xt" textLength="172" lengthAdjust="spacingAndGlyphs">Duration of Oxygen Support (Days)</text>
<text x="2075" y="673" class="xt" textLength="155.7" lengthAdjust="spacingAndGlyphs">Duration of Hospital Stay (Days)</text>
<text x="2406.5" y="673" class="xt" textLength="205.5" lengthAdjust="spacingAndGlyphs">Time to reach SpO2 of at least 93% (Days)</text>

<!-- ITT tables -->
<rect x="1634.7" y="679.3" width="307" height="51.4" fill="#4472C4"/>
<rect x="1634.7" y="732.7" width="307" height="35" fill="#CFD5EA"/>
<rect x="1994.3" y="679.3" width="309.9" height="51.4" fill="#4472C4"/>
<rect x="1994.3" y="732.7" width="309.9" height="35" fill="#CFD5EA"/>
<rect x="2346.7" y="677.3" width="312.1" height="52.7" fill="#4472C4"/>
<rect x="2346.7" y="732.7" width="312.1" height="35" fill="#CFD5EA"/>
<g stroke="#fff" stroke-width="2">
<line x1="1727" y1="679" x2="1727" y2="768"/><line x1="1796.8" y1="679" x2="1796.8" y2="768"/>
<line x1="2051.2" y1="679" x2="2051.2" y2="768"/><line x1="2132.7" y1="679" x2="2132.7" y2="768"/>
<line x1="2404.4" y1="677" x2="2404.4" y2="768"/><line x1="2487.2" y1="677" x2="2487.2" y2="768"/>
</g>
<g class="kw" text-anchor="middle">
<text x="1680.9" y="693">SST</text><text x="1680.9" y="711">N = 19</text>
<text x="1761.9" y="693">150 ppm</text><text x="1761.9" y="711">NO + SST</text><text x="1761.9" y="728">N = 16</text>
<text x="1869.3" y="693">Comparison Hazard</text><text x="1869.3" y="711">Ratio, 150 NO + SST vs</text><text x="1869.3" y="728">SST</text>
<text x="2022.8" y="693">SST</text><text x="2022.8" y="711">N = 19</text>
<text x="2092" y="693">150 ppm NO</text><text x="2092" y="711">+ SST</text><text x="2092" y="728">N = 16</text>
<text x="2218.5" y="693">Comparison Hazard Ratio,</text><text x="2218.5" y="711">150 NO + SST vs SST</text>
<text x="2375.5" y="691">SST</text><text x="2375.5" y="709" font-size="15">N = 15</text>
<text x="2445.8" y="691">150 ppm NO</text><text x="2445.8" y="709">+ SST</text><text x="2445.8" y="726" font-size="15">N = 13</text>
<text x="2573" y="691">Comparison Hazard Ratio,</text><text x="2573" y="709">150 NO + SST vs SST</text>
</g>
<g class="kb" text-anchor="middle">
<text x="1680.9" y="747">Median</text><text x="1680.9" y="765">6.3</text>
<text x="1761.9" y="747">Median</text><text x="1761.9" y="765">3.6</text>
<text x="1869.3" y="747">HR¹,p-value²,[95% CI]</text><text x="1869.3" y="765">2.8 , 0.034, [1.1, 7.1]</text>
<text x="2022.8" y="747">Median</text><text x="2022.8" y="765">3.0</text>
<text x="2092" y="747">Median</text><text x="2092" y="765">3.0</text>
<text x="2218.5" y="747">HR¹,p-value²,[95% CI]</text><text x="2218.5" y="765">1.7, 0.239, [0.7, 4.2]</text>
<text x="2375.5" y="764">NA³</text>
<text x="2445.8" y="746">Median</text><text x="2445.8" y="764">4.0</text>
<text x="2573" y="746">HR¹,p-value²,[95% CI]</text><text x="2573" y="764">5.4, 0.049, [1.0, 28.8]</text>
</g>
<text x="1637.6" y="780" class="fn" textLength="215" lengthAdjust="spacingAndGlyphs">¹With adjustment to gender and age group.</text>
<text x="1637.6" y="795" class="fn" textLength="264" lengthAdjust="spacingAndGlyphs">²P-value derived from Cox proportional hazard model.</text>
<text x="1995.7" y="780" class="fn" textLength="214" lengthAdjust="spacingAndGlyphs">¹With adjustment to gender and age group.</text>
<text x="1995.7" y="795" class="fn" textLength="263" lengthAdjust="spacingAndGlyphs">²P-value derived from Cox proportional hazard model.</text>
<text x="2351" y="780" class="fn" textLength="271" lengthAdjust="spacingAndGlyphs">Only subjects with low saturation at entry are included.</text>
<text x="2351" y="795" class="fn" textLength="156" lengthAdjust="spacingAndGlyphs">¹With adjustment to age group.</text>
<text x="2351" y="809" class="fn" textLength="262" lengthAdjust="spacingAndGlyphs">²P-value derived from Cox proportional hazard model.</text>
<text x="2351" y="824" class="fn" textLength="76" lengthAdjust="spacingAndGlyphs">³Not calculable.</text>

<!-- PP -->
<text x="2022.4" y="830.7" class="cy" font-size="23" textLength="296" lengthAdjust="spacingAndGlyphs">Efficacy – Per Protocol (PP)</text>
<text x="1642" y="856" class="kt" textLength="263.7" lengthAdjust="spacingAndGlyphs">Time to remove oxygen support</text>
<text x="2058.4" y="855" class="kt" textLength="217.6" lengthAdjust="spacingAndGlyphs">Time to hospital discharge</text>
<text x="2349.6" y="855" class="kt" textLength="312" lengthAdjust="spacingAndGlyphs">Time to reach SpO2 ≥ 93% in room air</text>

<g transform="translate(1590,800) scale(0.72067,0.33333)" fill="none">
<rect x="65" y="202" width="433" height="575" stroke="#999" stroke-width="1" vector-effect="non-scaling-stroke"/>
<path d="M65,202V777H498" stroke="#222" stroke-width="1.2" vector-effect="non-scaling-stroke"/>
<rect x="575" y="202" width="415" height="568" stroke="#111" stroke-width="2" vector-effect="non-scaling-stroke"/>
<rect x="1068" y="202" width="414" height="568" stroke="#999" stroke-width="1" vector-effect="non-scaling-stroke"/>
<path d="M1068,202V770H1482" stroke="#222" stroke-width="1.2" vector-effect="non-scaling-stroke"/>
<path d="M66,210H70V247H84V362H100V420H112V472H128V510H153V548H189V622H212V660H303V695H357V732" stroke="#E53935" stroke-width="2" stroke-dasharray="6,4" vector-effect="non-scaling-stroke"/>
<path d="M66,210H68V265H76V315H82V467H97V517H101V570H104V620H108V668H126V718H171V770" stroke="#222" stroke-width="2" vector-effect="non-scaling-stroke"/>
<path d="M387,218H425" stroke="#E53935" stroke-width="2" stroke-dasharray="5,3" vector-effect="non-scaling-stroke"/>
<path d="M387,238H425" stroke="#555" stroke-width="1.2" vector-effect="non-scaling-stroke"/>
<path d="M578,211H625V280H632V315H670V350H676V385H682V418H714V485H720V520H757V590H762V626H890V660H897V693H933V730H987V768" stroke="#E53935" stroke-width="2" vector-effect="non-scaling-stroke"/>
<path d="M578,211H630V290H637V300H641V340H670V385H678V465H710V510H712V550H750V595H752V635H770V680H798V720H855V765" stroke="#888" stroke-width="1.6" vector-effect="non-scaling-stroke"/>
<path d="M876,215H912" stroke="#F4A0A0" stroke-width="2" stroke-dasharray="5,3" vector-effect="non-scaling-stroke"/>
<path d="M876,233H912" stroke="#999" stroke-width="2" vector-effect="non-scaling-stroke"/>
<path d="M1073,208H1110V252H1153V298H1200V363H1270V442H1445" stroke="#E53935" stroke-width="2" stroke-dasharray="6,4" vector-effect="non-scaling-stroke"/>
<path d="M1073,208H1075V264H1118V320H1125V375H1160V440H1237V520H1242V600H1325V683" stroke="#222" stroke-width="2" vector-effect="non-scaling-stroke"/>
<path d="M1377,215H1412" stroke="#F4A0A0" stroke-width="1.5" stroke-dasharray="5,3" vector-effect="non-scaling-stroke"/>
<path d="M1377,232H1412" stroke="#555" stroke-width="1.2" vector-effect="non-scaling-stroke"/>
</g>
<g class="lg" text-anchor="end">
<text x="1947" y="874">SST</text><text x="1947" y="881">150 ppm NO + SST</text>
<text x="2299" y="873">SST</text><text x="2299" y="879">150 ppm NO + SST</text>
<text x="2657" y="873">SST</text><text x="2657" y="879">150 ppm NO + SST</text>
</g>
<g class="tk" text-anchor="end">
<text x="1633" y="871.3">1.0</text><text x="1633" y="890">0.9</text><text x="1633" y="908.7">0.8</text><text x="1633" y="927.3">0.7</text><text x="1633" y="946">0.6</text><text x="1633" y="964.7">0.5</text><text x="1633" y="983.3">0.4</text><text x="1633" y="1002">0.3</text><text x="1633" y="1020.7">0.2</text><text x="1633" y="1039.3">0.1</text><text x="1633" y="1058">0.0</text>
<text x="2358" y="871.3">1.0</text><text x="2358" y="889.8">0.9</text><text x="2358" y="908.2">0.8</text><text x="2358" y="926.7">0.7</text><text x="2358" y="945.2">0.6</text><text x="2358" y="963.7">0.5</text><text x="2358" y="982.1">0.4</text><text x="2358" y="1000.6">0.3</text><text x="2358" y="1019.1">0.2</text><text x="2358" y="1037.5">0.1</text><text x="2358" y="1056">0.0</text>
</g>
<g class="tkb" text-anchor="end">
<text x="1998.6" y="875">100%</text><text x="1998.6" y="912">80%</text><text x="1998.6" y="949">60%</text><text x="1998.6" y="985.5">40%</text><text x="1998.6" y="1022.5">20%</text><text x="1998.6" y="1059.5">0%</text>
</g>
<g class="tk" text-anchor="middle">
<text x="1637.6" y="1069">0</text><text x="1681.5" y="1069">7</text><text x="1726.2" y="1069">14</text><text x="1770.2" y="1069">21</text><text x="1814.8" y="1069">28</text><text x="1858.8" y="1069">35</text><text x="1902.8" y="1069">42</text><text x="1947.5" y="1069">49</text>
<text x="2363.3" y="1066">0</text><text x="2392.1" y="1066">1</text><text x="2422.4" y="1066">2</text><text x="2451.9" y="1066">3</text><text x="2480.7" y="1066">4</text><text x="2509.6" y="1066">5</text><text x="2539.8" y="1066">6</text><text x="2568.7" y="1066">7</text><text x="2598.2" y="1066">8</text><text x="2627.8" y="1066">9</text><text x="2657.3" y="1066">10</text>
</g>
<g class="tkb" text-anchor="middle" font-size="8.5">
<text x="2006.5" y="1070">0</text><text x="2071.4" y="1070">2</text><text x="2135.6" y="1070">4</text><text x="2199.7" y="1070">6</text><text x="2264.5" y="1070">8</text>
</g>
<text transform="translate(1615.5,967.5) rotate(-90)" class="yt" text-anchor="middle" textLength="215" lengthAdjust="spacingAndGlyphs">Proportion of subjects with Oxygen Support</text>
<text transform="translate(1976,956) rotate(-90)" class="yt" text-anchor="middle" textLength="212" lengthAdjust="spacingAndGlyphs">Proportion of subjects yet to be discharged</text>
<text transform="translate(2343.5,963) rotate(-90)" class="yt" text-anchor="middle" textLength="227" lengthAdjust="spacingAndGlyphs">Proportion of subjects to achieve SpO2 of 93%</text>
<text x="1692" y="1085" class="xt" textLength="172" lengthAdjust="spacingAndGlyphs">Duration of Oxygen Support (Days)</text>
<text x="2069" y="1086" class="xt" textLength="155" lengthAdjust="spacingAndGlyphs">Duration of Hospital Stay (Days)</text>
<text x="2415" y="1086" class="xt" textLength="205.6" lengthAdjust="spacingAndGlyphs">Time to reach SpO2 of at least 93% (Days)</text>

<!-- PP tables -->
<rect x="1634.7" y="1094" width="315.6" height="51.7" fill="#4472C4"/>
<rect x="1634.7" y="1148" width="315.6" height="34.7" fill="#CFD5EA"/>
<rect x="2003" y="1094" width="302" height="51.7" fill="#4472C4"/>
<rect x="2003" y="1148" width="302" height="34.7" fill="#CFD5EA"/>
<rect x="2361" y="1092.7" width="302.8" height="52" fill="#4472C4"/>
<rect x="2361" y="1148" width="302.8" height="34.7" fill="#CFD5EA"/>
<g stroke="#fff" stroke-width="2">
<line x1="1693" y1="1094" x2="1693" y2="1183"/><line x1="1776" y1="1094" x2="1776" y2="1183"/>
<line x1="2058.4" y1="1094" x2="2058.4" y2="1183"/><line x1="2139" y1="1094" x2="2139" y2="1183"/>
<line x1="2418" y1="1092" x2="2418" y2="1183"/><line x1="2497.3" y1="1092" x2="2497.3" y2="1183"/>
</g>
<g class="kw" text-anchor="middle">
<text x="1663.9" y="1108">SST</text><text x="1663.9" y="1125">N = 17</text>
<text x="1734.5" y="1108">150 ppm NO</text><text x="1734.5" y="1125">+ SST</text><text x="1734.5" y="1143">N = 14</text>
<text x="1863.2" y="1108">Comparison Hazard Ratio,</text><text x="1863.2" y="1125">150 NO + SST vs SST</text>
<text x="2030.7" y="1108">SST</text><text x="2030.7" y="1125">N = 17</text>
<text x="2098.7" y="1108">150 ppm</text><text x="2098.7" y="1125">NO + SST</text><text x="2098.7" y="1143">N = 14</text>
<text x="2222" y="1108">Comparison Hazard Ratio,</text><text x="2222" y="1125">150 NO + SST vs SST</text>
<text x="2389.5" y="1106">SST</text><text x="2389.5" y="1124" font-size="15">N = 14</text>
<text x="2457.7" y="1106">150 ppm</text><text x="2457.7" y="1124">NO + SST</text><text x="2457.7" y="1141" font-size="15">N = 10</text>
<text x="2580.5" y="1106">Comparison Hazard Ratio,</text><text x="2580.5" y="1124">150 NO + SST vs SST</text>
</g>
<g class="kb" text-anchor="middle">
<text x="1663.9" y="1161">Median</text><text x="1663.9" y="1179">7.0</text>
<text x="1734.5" y="1161">Median</text><text x="1734.5" y="1179">3.6</text>
<text x="1863.2" y="1161">HR¹,p-value²,[95% CI]</text><text x="1863.2" y="1179">6.3 , 0.0035, [1.8, 21.8]</text>
<text x="2030.7" y="1161">Median</text><text x="2030.7" y="1179">3.2</text>
<text x="2098.7" y="1161">Median</text><text x="2098.7" y="1179">2.9</text>
<text x="2222" y="1161">HR¹,p-value²,[95% CI]</text><text x="2222" y="1179">1.9 , 0.203, [0.7, 4.9]</text>
<text x="2389.5" y="1179">NA³</text>
<text x="2457.7" y="1161">Median</text><text x="2457.7" y="1179">4.0</text>
<text x="2580.5" y="1161">HR¹,p-value²,[95% CI]</text><text x="2580.5" y="1179">4.9 , 0.067, [0.9, 27.3]</text>
</g>
<text x="1637.6" y="1199" class="fn" textLength="213" lengthAdjust="spacingAndGlyphs">¹With adjustment to gender and age group.</text>
<text x="1637.6" y="1213" class="fn" textLength="163" lengthAdjust="spacingAndGlyphs">²P-value derived from Chi-square.</text>
<text x="2004.4" y="1199" class="fn" textLength="212.6" lengthAdjust="spacingAndGlyphs">¹With adjustment to gender and age group.</text>
<text x="2004.4" y="1213" class="fn" textLength="163.6" lengthAdjust="spacingAndGlyphs">²P-value derived from Chi-square.</text>
<text x="2363" y="1199" class="fn" textLength="271.7" lengthAdjust="spacingAndGlyphs">Only subjects with low saturation at entry are included.</text>
<text x="2363" y="1214" class="fn" textLength="156" lengthAdjust="spacingAndGlyphs">¹With adjustment to age group.</text>
<text x="2363" y="1228" class="fn" textLength="165" lengthAdjust="spacingAndGlyphs">²P-value derived from Chi-square.</text>
<text x="2363" y="1243" class="fn" textLength="77" lengthAdjust="spacingAndGlyphs">³Not calculable.</text>

<!-- CRP -->
<rect x="1632" y="1224" width="462" height="18.3" fill="#4472C4"/>
<rect x="1632" y="1243.3" width="462" height="21" fill="#CFD5EA"/>
<g stroke="#fff" stroke-width="2"><line x1="1852" y1="1224" x2="1852" y2="1264.3"/><line x1="2031.4" y1="1224" x2="2031.4" y2="1264.3"/><line x1="1632" y1="1242.8" x2="2094" y2="1242.8"/></g>
<g class="kw" text-anchor="middle"><text x="1742" y="1238">CRP</text><text x="1941.7" y="1238">150 ppm NO + SST</text><text x="2062.7" y="1238">SST</text></g>
<text x="1634.3" y="1259.5" class="kb" textLength="200" lengthAdjust="spacingAndGlyphs">Change from Baseline, Mean, std</text>
<text x="1941" y="1259.5" class="kb" text-anchor="middle">-6.1, 7.2</text>
<text x="2064" y="1259.5" class="kb" text-anchor="middle">-3.9, 3.9</text>

<!-- SUMMARY -->
<text x="2089" y="1293.3" font-size="29" font-weight="bold" fill="#2E75B6" textLength="157" lengthAdjust="spacingAndGlyphs">Summary</text>
<rect x="1657" y="1304.3" width="973.7" height="148" rx="20" ry="20" fill="#A8C6F8" stroke="#5B8DEF" stroke-width="2"/>
<text x="1668" y="1331.7" class="sm" textLength="940.7" lengthAdjust="spacingAndGlyphs">1) iNO treatment delivered with LungFit PRO in patients with viral community-acquired pneumonia (97% COVID-19)</text>
<text x="1680" y="1355.3" class="sm" textLength="220" lengthAdjust="spacingAndGlyphs">was safe and well tolerated</text>
<text x="1668" y="1380" class="sm" textLength="889" lengthAdjust="spacingAndGlyphs">2) There were indications of improved efficacy on multiple parameters in the iNO treatment group vs. the SST</text>
<text x="1680" y="1404" class="sm" textLength="613" lengthAdjust="spacingAndGlyphs">control group with a significant reduction in the duration of oxygen support</text>
<text x="1668" y="1428.3" class="sm" textLength="646" lengthAdjust="spacingAndGlyphs">3) A larger study in this patient population is warranted to confirm these results</text>

<!-- QR -->
<rect x="2662" y="1480" width="43" height="42" fill="url(#qr)"/>
<g fill="none" stroke="#111" stroke-width="2">
<rect x="2663" y="1481" width="9" height="9"/><rect x="2694" y="1481" width="9" height="9"/><rect x="2663" y="1511" width="9" height="9"/>
</g>
<rect x="2666" y="1484" width="3" height="3" fill="#111"/><rect x="2697" y="1484" width="3" height="3" fill="#111"/><rect x="2666" y="1514" width="3" height="3" fill="#111"/>
</svg>
</body></html>
